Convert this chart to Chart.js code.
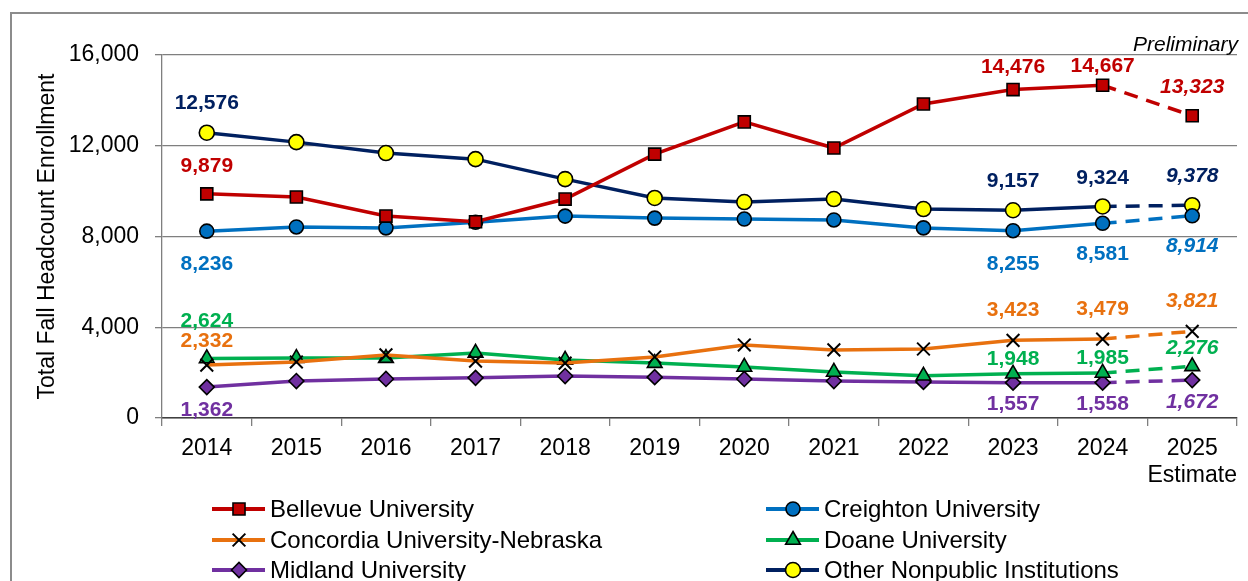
<!DOCTYPE html>
<html>
<head>
<meta charset="utf-8">
<script src="https://cdn.jsdelivr.net/npm/chart.js@4.4.0/dist/chart.umd.min.js"></script>
<style>
html, body { margin: 0; padding: 0; background: #fff; }
</style>
</head>
<body>
<canvas id="enroll_chart" width="1248" height="581"></canvas>
<script>
const years = ['2014', '2015', '2016', '2017', '2018', '2019', '2020', '2021', '2022', '2023', '2024', ['2025', 'Estimate']];
const bellevue = [9879, 9740, 8900, 8650, 9650, 11630, 13050, 11900, 13840, 14476, 14667, 13323];
const creighton = [8236, 8420, 8380, 8630, 8900, 8810, 8770, 8730, 8380, 8255, 8581, 8914];
const concordia = [2332, 2470, 2780, 2510, 2420, 2690, 3220, 3000, 3040, 3423, 3479, 3821];
const doane = [2624, 2640, 2640, 2870, 2560, 2420, 2250, 2030, 1860, 1948, 1985, 2276];
const midland = [1362, 1630, 1720, 1770, 1850, 1800, 1720, 1630, 1590, 1557, 1558, 1672];
const otherNonpublic = [12576, 12160, 11680, 11410, 10530, 9700, 9520, 9650, 9210, 9157, 9324, 9378];
const yTicks = [0, 4000, 8000, 12000, 16000];
const labelIdx = [0, 9, 10, 11];

const FONT = "'Liberation Sans', Arial, sans-serif";
const fmt = v => v.toLocaleString('en-US');

// vertical offset of the value labels (px from the point), one per labelIdx
const labelOffsets = [
    [-28, -22, -19, -29],
    [33, 33, 31, 30],
    [-24, -30, -30, -30],
    [-37, -15, -15, -18],
    [23, 22, 22, 22],
    [-29, -29, -28, -29]
];

function series(label, data, color, style, radius, fill, bw) {
    return {
        label: label,
        data: data,
        borderColor: color,
        backgroundColor: color,
        borderWidth: 3.5,
        pointStyle: style,
        pointRadius: radius,
        pointHoverRadius: radius,
        pointBackgroundColor: fill,
        pointBorderColor: '#000',
        pointBorderWidth: bw || 1.6,
        tension: 0,
        segment: {
            borderDash: c => c.p1DataIndex === 11 ? [14, 9] : undefined
        }
    };
}

const valueLabels = {
    id: 'valueLabels',
    afterDatasetsDraw(chart) {
        const ctx = chart.ctx;
        ctx.save();
        ctx.textAlign = 'center';
        ctx.textBaseline = 'middle';
        chart.data.datasets.forEach((ds, i) => {
            const meta = chart.getDatasetMeta(i);
            labelIdx.forEach((j, k) => {
                const pt = meta.data[j];
                ctx.font = (j === 11 ? 'italic ' : '') + 'bold 21px ' + FONT;
                ctx.fillStyle = ds.borderColor;
                ctx.fillText(fmt(ds.data[j]), pt.x, pt.y + labelOffsets[i][k]);
            });
        });
        ctx.font = 'italic 21px ' + FONT;
        ctx.fillStyle = '#000';
        ctx.textAlign = 'right';
        ctx.fillText('Preliminary', 1238, 45);
        ctx.restore();
    }
};

const sideLegend = {
    id: 'sideLegend',
    beforeDraw(chart) {
        const ctx = chart.ctx;
        ctx.save();
        ctx.fillStyle = '#fff';
        ctx.fillRect(0, 0, chart.width, chart.height);
        ctx.strokeStyle = '#8c8c8c';
        ctx.lineWidth = 2;
        ctx.strokeRect(11, 13, 1400, 800);
        ctx.restore();
    },
    afterDraw(chart) {
        const ctx = chart.ctx;
        const colX = [212, 766];
        const rowY = [509, 540, 570];
        const drawPoint = Chart.helpers && Chart.helpers.drawPoint;
        ctx.save();
        chart.data.datasets.forEach((ds, i) => {
            const x = colX[i % 2];
            const y = rowY[Math.floor(i / 2)];
            ctx.strokeStyle = ds.borderColor;
            ctx.lineWidth = 4;
            ctx.setLineDash([]);
            ctx.beginPath();
            ctx.moveTo(x, y);
            ctx.lineTo(x + 53, y);
            ctx.stroke();
            ctx.fillStyle = ds.pointBackgroundColor;
            ctx.strokeStyle = '#000';
            ctx.lineWidth = ds.pointBorderWidth;
            if (drawPoint) {
                drawPoint(ctx, { pointStyle: ds.pointStyle, rotation: 0, radius: ds.pointRadius, borderWidth: ds.pointBorderWidth }, x + 27, y);
            } else {
                ctx.beginPath();
                ctx.arc(x + 27, y, ds.pointRadius, 0, Math.PI * 2);
                ctx.fill();
                ctx.stroke();
            }
            ctx.fillStyle = '#000';
            ctx.font = '24px ' + FONT;
            ctx.textAlign = 'left';
            ctx.textBaseline = 'middle';
            ctx.fillText(ds.label, x + 58, y + 1);
        });
        ctx.restore();
    }
};

const ctx = document.getElementById('enroll_chart').getContext('2d');
const myChart = new Chart(ctx, {
    type: 'line',
    data: {
        labels: years,
        datasets: [
            series('Bellevue University', bellevue, '#C00000', 'rect', 8.5, '#C00000'),
            series('Creighton University', creighton, '#0070C0', 'circle', 7, '#0070C0'),
            series('Concordia University-Nebraska', concordia, '#E8710F', 'crossRot', 9, '#E8710F', 2),
            series('Doane University', doane, '#00B050', 'triangle', 8.5, '#00B050'),
            series('Midland University', midland, '#7030A0', 'rectRot', 7.5, '#7030A0'),
            series('Other Nonpublic Institutions', otherNonpublic, '#002060', 'circle', 7.5, '#FFFF00')
        ]
    },
    options: {
        responsive: false,
        animation: false,
        layout: { padding: { left: 20, top: 55, right: 11, bottom: 93 } },
        plugins: {
            legend: { display: false },
            tooltip: { enabled: false }
        },
        scales: {
            x: {
                offset: true,
                afterFit: s => { s.height = 70; },
                grid: { offset: true, drawOnChartArea: false, tickLength: 8, color: '#7f7f7f', lineWidth: 1.3 },
                border: { color: '#404040', width: 1.5 },
                ticks: { color: '#000', padding: 9, maxRotation: 0, autoSkip: false, font: { family: FONT, size: 23, lineHeight: 1.18 } }
            },
            y: {
                min: 0,
                max: 16000,
                afterFit: s => { s.width = 142; },
                afterBuildTicks: s => { s.ticks = yTicks.map(v => ({ value: v })); },
                grid: { color: '#7f7f7f', lineWidth: 1.3, tickLength: 7 },
                border: { color: '#7f7f7f', width: 1.3 },
                ticks: { color: '#000', padding: 16, callback: v => fmt(v), font: { family: FONT, size: 23 } },
                title: {
                    display: true,
                    text: 'Total Fall Headcount Enrollment',
                    color: '#000',
                    padding: { top: 14, bottom: 0 },
                    font: { family: FONT, size: 23, lineHeight: 1.2 }
                }
            }
        }
    },
    plugins: [valueLabels, sideLegend]
});
</script>
</body>
</html>
